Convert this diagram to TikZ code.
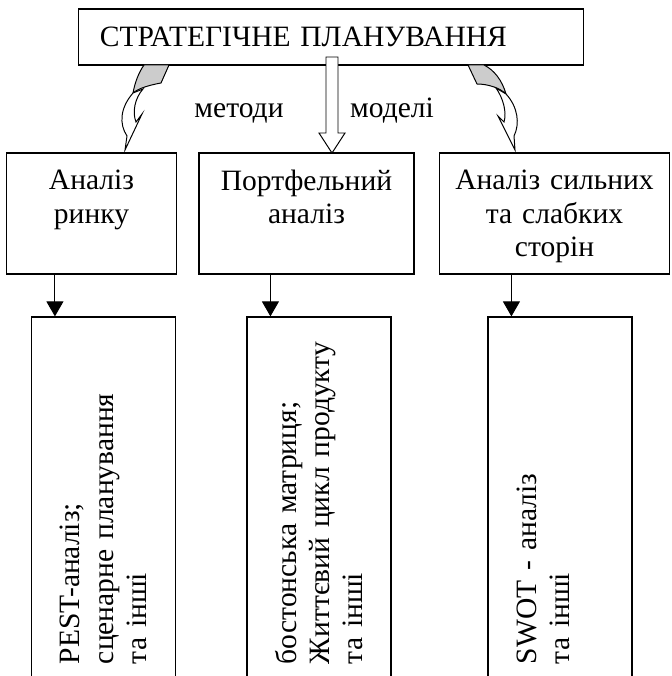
\documentclass[tikz,border=0pt]{standalone}
\usepackage{fontspec}
\setmainfont{Liberation Serif}
\usetikzlibrary{arrows.meta}

\begin{document}
\begin{tikzpicture}[x=0.025cm, y=-0.025cm,
	font=\fontsize{21pt}{23.7pt}\selectfont,
	rowbox/.style={draw, line width=0.8pt, minimum height=3.025cm, align=center},
	colbox/.style={draw, line width=0.8pt, rotate=90, minimum width=9.275cm, minimum height=3.6cm,
		inner xsep=0.6cm, text width=8.075cm, align=left},
	conn/.style={-{Triangle[length=0.375cm, width=0.425cm]}, line width=0.7pt},
	backside/.style={draw, line width=0.7pt, fill=gray!40},
	frontside/.style={draw, line width=0.7pt, fill=white}]

		\useasboundingbox (0,0) rectangle (671,676);
		\clip (0,0) rectangle (671,676);

		% --- Top block ---
		\node[draw, line width=0.8pt, minimum width=12.6cm, minimum height=1.4cm,
			inner xsep=0.525cm, text width=11.55cm, align=left] (plan) at (331,37) {СТРАТЕГІЧНЕ ПЛАНУВАННЯ};

		% --- Second row ---
		\node[rowbox, minimum width=4.225cm, text width=4cm] (market) at (91.5,213.5) {Аналіз\\ринку\\\mbox{}};
		\node[rowbox, minimum width=5.375cm, text width=5.1cm] (portf) at (306.5,213.5) {Портфельний\\аналіз\\\mbox{}};
		\node[rowbox, minimum width=5.725cm, text width=5.5cm] (strength) at (554.5,213.5)
			{Аналіз сильних\\та слабких\\\raisebox{0pt}[\height][0pt]{сторін}};

		% --- Columns (cut at the bottom) ---
		\node[colbox] (pest) at (103.5,502.5) {PEST-аналіз;\\сценарне планування\\та інші};
		\node[colbox] (boston) at (319,502.5) {бостонська матриця;\\Життєвий цикл продукту\\та інші};
		\node[colbox] (swot) at (560,502.5) {SWOT - аналіз\\та інші\\\mbox{}};

		% --- Connectors ---
		\foreach \up/\low in {market/pest, portf/boston, strength/swot} {
			\coordinate (\low-in) at ([xshift=0.6cm]\low.north east);
			\draw[conn] (\up.south -| \low-in) -- (\low-in);
		}

		% --- Hollow arrow (models) ---
		\draw[frontside] (326,57) -- (338,57) -- (338,133) -- (345,133) -- (332,153) -- (319,133) -- (326,133) -- cycle;

		% --- Curved arrows ---
		% left
		\draw[backside] (144,65) -- (169,65) -- (161,83) .. controls (150,85) and (139,88) .. (133,93)
			.. controls (135,82) and (139,72) .. (144,65) -- cycle;
		\draw[frontside] (133,93) .. controls (120,108) and (119,124) .. (127,136) -- (125,150) -- (142,114)
			-- (136,122) .. controls (132,112) and (135,98) .. (143,89) -- cycle;
		% right
		\draw[backside] (484,65) -- (468,65) -- (477,84) .. controls (488,84) and (500,88) .. (506,94)
			.. controls (502,80) and (494,70) .. (484,65) -- cycle;
		\draw[frontside] (506,94) .. controls (518,107) and (520,124) .. (514,136) -- (515,150) -- (498,116)
			-- (504,122) .. controls (507,112) and (503,98) .. (496,88) -- cycle;

		% --- Labels ---
		\node[anchor=base] (methods) at (239,118) {методи};
		\node[anchor=base] (models) at (392,118) {моделі};

	\end{tikzpicture}
\end{document}
